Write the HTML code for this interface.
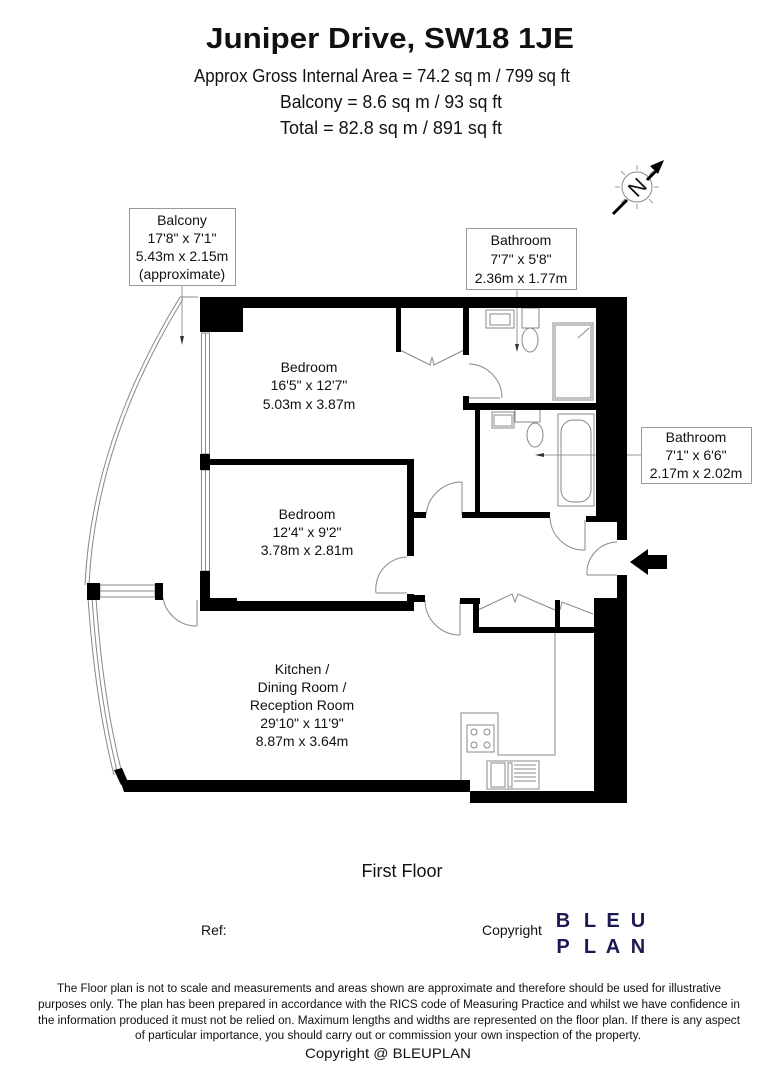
<!DOCTYPE html>
<html><head><meta charset="utf-8"><style>
html,body{margin:0;padding:0;background:#fff;}
svg{display:block;}
text{font-family:"Liberation Sans",Arial,sans-serif;fill:#111;}
</style></head><body>
<svg width="764" height="1080" viewBox="0 0 764 1080" xmlns="http://www.w3.org/2000/svg">
<rect width="764" height="1080" fill="#fff"/>
<!-- header -->
<text x="390" y="48" font-size="29" font-weight="bold" text-anchor="middle" textLength="368" lengthAdjust="spacingAndGlyphs">Juniper Drive, SW18 1JE</text>
<text x="382" y="82" font-size="18" text-anchor="middle" textLength="376" lengthAdjust="spacingAndGlyphs">Approx Gross Internal Area = 74.2 sq m / 799 sq ft</text>
<text x="391" y="108" font-size="18" text-anchor="middle" textLength="222" lengthAdjust="spacingAndGlyphs">Balcony = 8.6 sq m / 93 sq ft</text>
<text x="391" y="134" font-size="18" text-anchor="middle" textLength="222" lengthAdjust="spacingAndGlyphs">Total = 82.8 sq m / 891 sq ft</text>

<!-- compass -->
<g stroke="#999" stroke-width="1" fill="none">
<circle cx="637" cy="187" r="15" stroke="#888"/>
<line x1="637" y1="165" x2="637" y2="170"/><line x1="637" y1="204" x2="637" y2="209"/>
<line x1="615" y1="187" x2="620" y2="187"/><line x1="654" y1="187" x2="659" y2="187"/>
<line x1="621" y1="171" x2="625" y2="175"/><line x1="649" y1="199" x2="653" y2="203"/>
<line x1="653" y1="171" x2="649" y2="175"/><line x1="621" y1="203" x2="625" y2="199"/>
</g>
<line x1="613" y1="214" x2="627" y2="200" stroke="#000" stroke-width="3"/>
<line x1="647" y1="180" x2="657" y2="170" stroke="#000" stroke-width="3"/>
<polygon points="664,160 650,166 658,174" fill="#000"/>
<text x="637" y="195" font-size="22" text-anchor="middle" transform="rotate(-45 637 187)">N</text>

<!-- label boxes -->
<g fill="#fff" stroke="#999" stroke-width="1">
<rect x="129.5" y="208.5" width="106" height="77"/>
<rect x="466.5" y="228.5" width="110" height="61"/>
<rect x="641.5" y="427.5" width="110" height="56"/>
</g>
<g font-size="14" text-anchor="middle">
<text x="182" y="225">Balcony</text><text x="182" y="243">17'8" x 7'1"</text><text x="182" y="261">5.43m x 2.15m</text><text x="182" y="279">(approximate)</text>
<text x="521" y="245">Bathroom</text><text x="521" y="264">7'7" x 5'8"</text><text x="521" y="283">2.36m x 1.77m</text>
<text x="696" y="442">Bathroom</text><text x="696" y="460">7'1" x 6'6"</text><text x="696" y="478">2.17m x 2.02m</text>
</g>
<g stroke="#999" stroke-width="1">
<line x1="182" y1="286" x2="182" y2="340"/>
<line x1="517" y1="290" x2="517" y2="348"/>
<line x1="641" y1="455" x2="540" y2="455"/>
</g>
<g fill="#333"><polygon points="180,336 184,336 182,345"/><polygon points="515,344 519,344 517,352"/><polygon points="544,453 544,457 535,455"/></g>

<!-- balcony curve -->
<g fill="none" stroke="#888" stroke-width="1">
<path d="M180,297 Q92,440 85,585"/>
<path d="M183,299 Q96,440 89,585"/>
<line x1="180" y1="297" x2="198" y2="297"/>
<path d="M88,598 Q95,700 114,775"/>
<path d="M92,598 Q99,700 118,775"/>
<path d="M96,598 Q103,700 122,773"/>
<rect x="201.5" y="333" width="8" height="121"/>
<line x1="205.5" y1="333" x2="205.5" y2="454"/>
<rect x="201.5" y="470" width="8" height="101"/>
<line x1="205.5" y1="470" x2="205.5" y2="571"/>
<rect x="100" y="585" width="55" height="12"/>
<line x1="100" y1="591" x2="155" y2="591"/>
<line x1="197" y1="600" x2="197" y2="626"/><path d="M163,598 A34,34 0 0 0 197,626"/>
<line x1="469" y1="398" x2="500" y2="398"/><path d="M469,364 A34,34 0 0 1 502,398"/>
<line x1="462" y1="482" x2="462" y2="515"/><path d="M426,515 A36,36 0 0 1 462,482"/>
<line x1="376" y1="593" x2="407" y2="593"/><path d="M376,593 A32,32 0 0 1 407,557"/>
<line x1="585" y1="520" x2="585" y2="550"/><path d="M550,518 A34,34 0 0 0 585,550"/>
<line x1="587" y1="575" x2="617" y2="575"/><path d="M587,575 A31,31 0 0 1 617,542"/>
<line x1="460" y1="600" x2="460" y2="635"/><path d="M425,600 A35,35 0 0 0 460,635"/>
<polyline points="400,350 430,365 432,357 434,365 464,350"/>
<polyline points="478,610 512,594 515,602 518,594 555,610"/>
<polyline points="560,610 562,602 593,614"/>
<polyline points="555,633 555,755 498,755 498,713 461,713 461,790"/>
<rect x="467" y="725" width="27" height="27"/>
<rect x="487" y="761" width="52" height="28"/>
<line x1="514" y1="765" x2="536" y2="765"/><line x1="514" y1="769" x2="536" y2="769"/><line x1="514" y1="773" x2="536" y2="773"/><line x1="514" y1="777" x2="536" y2="777"/><line x1="514" y1="781" x2="536" y2="781"/>
<rect x="491" y="763" width="14" height="24"/><rect x="508" y="763" width="4" height="24"/>
<circle cx="474" cy="732" r="3"/><circle cx="487" cy="732" r="3"/><circle cx="474" cy="745" r="3"/><circle cx="487" cy="745" r="3"/>
<rect x="486" y="310" width="28" height="18"/><rect x="490" y="314" width="20" height="11"/>
<ellipse cx="530" cy="340" rx="8" ry="12"/><rect x="522" y="308" width="17" height="20"/>
<rect x="553" y="323" width="40" height="77"/><rect x="555" y="325" width="36" height="73"/>
<line x1="578" y1="338" x2="589" y2="328"/>
<rect x="492" y="412" width="22" height="16"/><rect x="494" y="415" width="18" height="11"/>
<ellipse cx="535" cy="435" rx="8" ry="12"/><rect x="515" y="408" width="25" height="14"/>
<rect x="558" y="414" width="36" height="92"/><rect x="561" y="420" width="30" height="82" rx="12"/>
</g>

<!-- black walls -->
<g fill="#000">
<rect x="200" y="297" width="427" height="11"/>
<rect x="200" y="297" width="43" height="35"/>
<rect x="596" y="297" width="31" height="223"/>
<rect x="617" y="297" width="10" height="243"/>
<rect x="617" y="575" width="10" height="30"/>
<rect x="594" y="598" width="33" height="205"/>
<rect x="470" y="791" width="157" height="12"/>
<polygon points="120,780 470,780 470,792 124,792"/>
<polygon points="114,770 122,768 128,782 121,785"/>
<rect x="200" y="454" width="10" height="16"/>
<rect x="200" y="571" width="10" height="40"/>
<rect x="205" y="601" width="209" height="10"/>
<rect x="205" y="598" width="32" height="13"/>
<rect x="205" y="459" width="209" height="6"/>
<rect x="407" y="459" width="7" height="97"/>
<rect x="407" y="594" width="7" height="17"/>
<rect x="407" y="595" width="18" height="7"/>
<rect x="460" y="598" width="20" height="6"/>
<rect x="473" y="598" width="6" height="35"/>
<rect x="473" y="627" width="121" height="6"/>
<rect x="555" y="600" width="5" height="33"/>
<rect x="396" y="308" width="5" height="44"/>
<rect x="463" y="308" width="6" height="47"/>
<rect x="463" y="396" width="6" height="14"/>
<rect x="463" y="403" width="134" height="7"/>
<rect x="475" y="403" width="5" height="115"/>
<rect x="462" y="512" width="88" height="6"/>
<rect x="414" y="512" width="12" height="6"/>
<rect x="586" y="516" width="31" height="6"/>
<rect x="87" y="583" width="13" height="17"/>
<rect x="155" y="583" width="8" height="17"/>
<polygon points="667,555 667,569 648,569 648,575 630,562 648,549 648,555"/>
</g>

<!-- room labels -->
<g font-size="14" text-anchor="middle">
<text x="309" y="372">Bedroom</text><text x="309" y="390">16'5" x 12'7"</text><text x="309" y="409">5.03m x 3.87m</text>
<text x="307" y="519">Bedroom</text><text x="307" y="537">12'4" x 9'2"</text><text x="307" y="555">3.78m x 2.81m</text>
<text x="302" y="674">Kitchen /</text><text x="302" y="692">Dining Room /</text><text x="302" y="710">Reception Room</text><text x="302" y="728">29'10" x 11'9"</text><text x="302" y="746">8.87m x 3.64m</text>
</g>

<text x="402" y="877" font-size="18" text-anchor="middle">First Floor</text>
<text x="201" y="935" font-size="14">Ref:</text>
<text x="482" y="935" font-size="14">Copyright</text>
<g font-size="20" font-weight="bold" text-anchor="middle">
<text x="563" y="927" style="fill:#1c1a52">B</text><text x="590" y="927" style="fill:#1c1a52">L</text><text x="613" y="927" style="fill:#1c1a52">E</text><text x="638" y="927" style="fill:#1c1a52">U</text>
<text x="563" y="953" style="fill:#1c1a52">P</text><text x="590" y="953" style="fill:#1c1a52">L</text><text x="613" y="953" style="fill:#1c1a52">A</text><text x="638" y="953" style="fill:#1c1a52">N</text>
</g>

<g font-size="11.5" text-anchor="middle">
<text x="389" y="992" textLength="664" lengthAdjust="spacingAndGlyphs">The Floor plan is not to scale and measurements and areas shown are approximate and therefore should be used for illustrative</text>
<text x="389" y="1008" textLength="702" lengthAdjust="spacingAndGlyphs">purposes only. The plan has been prepared in accordance with the RICS code of Measuring Practice and whilst we have confidence in</text>
<text x="389" y="1024" textLength="702" lengthAdjust="spacingAndGlyphs">the information produced it must not be relied on. Maximum lengths and widths are represented on the floor plan. If there is any aspect</text>
<text x="388" y="1039" textLength="506" lengthAdjust="spacingAndGlyphs">of particular importance, you should carry out or commission your own inspection of the property.</text>
<text x="388" y="1058" font-size="14" textLength="166" lengthAdjust="spacingAndGlyphs">Copyright @ BLEUPLAN</text>
</g>
</svg>
</body></html>
